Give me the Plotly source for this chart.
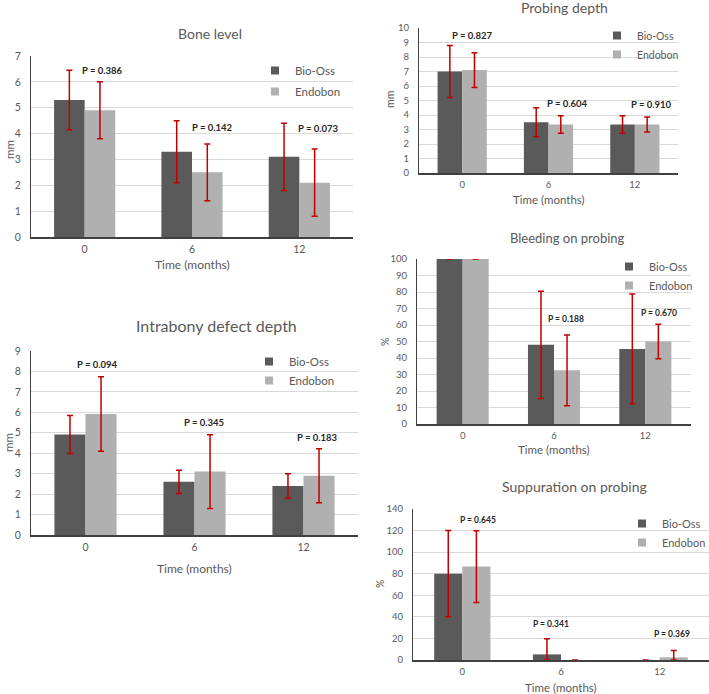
import plotly.graph_objects as go

# ---------------- data ----------------
time_labels = ["0", "6", "12"]
series_names = ["Bio-Oss", "Endobon"]

bone_bio = [5.3, 3.3, 3.1]
bone_bio_sd = [1.15, 1.2, 1.3]
bone_endo = [4.9, 2.5, 2.1]
bone_endo_sd = [1.1, 1.1, 1.3]
bone_p = ["P = 0.386", "P = 0.142", "P = 0.073"]

intra_bio = [4.92, 2.6, 2.4]
intra_bio_sd = [0.93, 0.57, 0.6]
intra_endo = [5.92, 3.1, 2.9]
intra_endo_sd = [1.82, 1.8, 1.32]
intra_p = ["P = 0.094", "P = 0.345", "P = 0.183"]

prob_bio = [7.0, 3.5, 3.35]
prob_bio_sd = [1.8, 1.0, 0.6]
prob_endo = [7.1, 3.35, 3.35]
prob_endo_sd = [1.2, 0.6, 0.52]
prob_p = ["P = 0.827", "P = 0.604", "P = 0.910"]

bleed_bio = [100, 48, 45.5]
bleed_bio_sd = [0, 32.5, 33.3]
bleed_endo = [100, 32.5, 50]
bleed_endo_sd = [0, 21.5, 10.5]
bleed_p = ["", "P = 0.188", "P = 0.670"]

supp_bio = [80, 5.2, 0]
supp_bio_up = [40, 14.5, 0]
supp_bio_down = [40, 5.2, 0]
supp_endo = [86.6, 0, 2.5]
supp_endo_up = [33.3, 0, 6.4]
supp_endo_down = [33.3, 0, 2.5]
supp_p = ["P = 0.645", "P = 0.341", "P = 0.369"]

# ---------------- style / layout ----------------
W, H = 709, 694
DARK = "#5a5a5a"
LIGHT = "#b0b0b0"
RED = "#c00000"
TXT = "#595959"
FONT = "Lato"
x_idx = [0, 1, 2]


def px(x):
    return x / W


def py(y):
    return 1 - y / H


panels = [
    dict(n=1, title="Bone level", ytitle="mm", bio=bone_bio, bup=bone_bio_sd, bdn=bone_bio_sd,
         endo=bone_endo, eup=bone_endo_sd, edn=bone_endo_sd, p=bone_p,
         p_pos=[(0.17, 6.43), (0.19, 4.23), (0.18, 4.19)],
         xd=(31, 353), yd=(56, 237), yr=7, dt=1, tpos=(210, 33), tsize=14, psize=9.5,
         ytpos=(9, 150), xtpos=265, leg=(255, 56), legsize=11.5, tsz=10.5, xts=12, lgap=2),
    dict(n=2, title="Intrabony defect depth", ytitle="mm", bio=intra_bio, bup=intra_bio_sd, bdn=intra_bio_sd,
         endo=intra_endo, eup=intra_endo_sd, edn=intra_endo_sd, p=intra_p,
         p_pos=[(0.11, 8.35), (0.09, 5.5), (0.13, 4.77)],
         xd=(31, 358), yd=(351, 535), yr=9, dt=1, tpos=(216, 325), tsize=16, psize=9.5,
         ytpos=(8, 443), xtpos=568, leg=(249, 347), legsize=11.5, tsz=10.5, xts=12, lgap=0),
    dict(n=3, title="Probing depth", ytitle="mm", bio=prob_bio, bup=prob_bio_sd, bdn=prob_bio_sd,
         endo=prob_endo, eup=prob_endo_sd, edn=prob_endo_sd, p=prob_p,
         p_pos=[(0.12, 9.47), (0.22, 4.76), (0.19, 4.69)],
         xd=(419, 678), yd=(28, 173), yr=10, dt=1, tpos=(564, 8), tsize=14, psize=9.5,
         ytpos=(390, 100), xtpos=200, leg=(597, 21), legsize=10.5, tsz=9.5, xts=11.5, lgap=0),
    dict(n=4, title="Bleeding on probing", ytitle="%", bio=bleed_bio, bup=bleed_bio_sd, bdn=bleed_bio_sd,
         endo=bleed_endo, eup=bleed_endo_sd, edn=bleed_endo_sd, p=bleed_p,
         p_pos=[(0.0, 0.0), (0.13, 63.8), (0.15, 67.5)],
         xd=(417, 691), yd=(259, 424), yr=100, dt=10, tpos=(567, 238), tsize=13, psize=8.5,
         ytpos=(385, 342), xtpos=449, leg=(609, 252), legsize=11, tsz=9.5, xts=11.5, lgap=0),
    dict(n=5, title="Suppuration on probing", ytitle="%", bio=supp_bio, bup=supp_bio_up, bdn=supp_bio_down,
         endo=supp_endo, eup=supp_endo_up, edn=supp_endo_down, p=supp_p,
         p_pos=[(0.155, 129.5), (-0.1, 33.0), (0.13, 24.0)],
         xd=(413, 709), yd=(509, 660), yr=140, dt=20, tpos=(574, 486), tsize=14, psize=8.5,
         ytpos=(380, 584), xtpos=687, leg=(622, 509), legsize=11, tsz=9.5, xts=11.5, lgap=0),
]

fig = go.Figure()
annotations = []
layout = dict(
    width=W, height=H, margin=dict(l=0, r=0, t=0, b=0, pad=0, autoexpand=False),
    paper_bgcolor="white", plot_bgcolor="white",
    barmode="group", bargap=0.43, bargroupgap=0,
    font=dict(family=FONT, color=TXT),
    showlegend=True,
)

for pnl in panels:
    n = pnl["n"]
    xa = "x" if n == 1 else f"x{n}"
    ya = "y" if n == 1 else f"y{n}"
    leg = "legend" if n == 1 else f"legend{n}"
    for name, vals, up, dn, col in [
        (series_names[0], pnl["bio"], pnl["bup"], pnl["bdn"], DARK),
        (series_names[1], pnl["endo"], pnl["eup"], pnl["edn"], LIGHT),
    ]:
        fig.add_trace(go.Bar(
            x=x_idx, y=vals, name=name, marker=dict(color=col, line=dict(width=0)),
            error_y=dict(type="data", array=up, arrayminus=dn, symmetric=False,
                         color=RED, thickness=1.5, width=3),
            xaxis=xa, yaxis=ya, showlegend=False, offsetgroup=name,
        ))
        fig.add_trace(go.Scatter(
            x=[None], y=[None], mode="markers", name=name,
            marker=dict(symbol="square", size=8, color=col),
            xaxis=xa, yaxis=ya, legend=leg, showlegend=True,
            legendgroup=f"{leg}_{name}",
        ))
    xkey = "xaxis" if n == 1 else f"xaxis{n}"
    ykey = "yaxis" if n == 1 else f"yaxis{n}"
    layout[xkey] = dict(
        domain=[px(pnl["xd"][0]), px(pnl["xd"][1])], anchor=ya,
        range=[-0.5, 2.5], tickvals=x_idx, ticktext=time_labels,
        showgrid=False, zeroline=False, showline=True, linecolor="#404040", linewidth=1.5,
        ticks="", ticklabelstandoff=2, automargin=False,
        tickfont=dict(size=pnl["tsz"], color=TXT, family=FONT), fixedrange=True,
    )
    layout[ykey] = dict(
        domain=[py(pnl["yd"][1]), py(pnl["yd"][0])], anchor=xa,
        range=[0, pnl["yr"]], dtick=pnl["dt"], tick0=0,
        showgrid=True, gridcolor="#d9d9d9", gridwidth=1, zeroline=False,
        showline=True, linecolor="#404040", linewidth=1,
        ticks="", ticklabelstandoff=7, automargin=False,
        tickfont=dict(size=pnl["tsz"], color=TXT, family=FONT), fixedrange=True,
    )
    layout[leg] = dict(
        x=px(pnl["leg"][0]), y=py(pnl["leg"][1]), xanchor="left", yanchor="top",
        bgcolor="rgba(0,0,0,0)", font=dict(size=pnl["legsize"], color=TXT, family=FONT),
        itemclick=False, itemdoubleclick=False, tracegroupgap=pnl["lgap"],
    )
    annotations.append(dict(
        text=pnl["title"], x=px(pnl["tpos"][0]), y=py(pnl["tpos"][1]),
        xref="paper", yref="paper", showarrow=False, xanchor="center", yanchor="middle",
        font=dict(size=pnl["tsize"], color=TXT, family=FONT),
    ))
    annotations.append(dict(
        text=pnl["ytitle"], x=px(pnl["ytpos"][0]), y=py(pnl["ytpos"][1]),
        xref="paper", yref="paper", showarrow=False, textangle=-90,
        xanchor="center", yanchor="middle",
        font=dict(size=pnl["tsz"] + 1, color=TXT, family=FONT),
    ))
    annotations.append(dict(
        text="Time (months)", x=(px(pnl["xd"][0]) + px(pnl["xd"][1])) / 2, y=py(pnl["xtpos"]),
        xref="paper", yref="paper", showarrow=False, xanchor="center", yanchor="middle",
        font=dict(size=pnl["xts"], color=TXT, family=FONT),
    ))
    for i, ptxt in enumerate(pnl["p"]):
        if not ptxt:
            continue
        off, yv = pnl["p_pos"][i]
        annotations.append(dict(
            text=f"<b>{ptxt}</b>", x=i + off, y=yv, xref=xa, yref=ya,
            showarrow=False, xanchor="center", yanchor="middle",
            font=dict(size=pnl["psize"], color="#262626", family=FONT),
        ))

layout["annotations"] = annotations
fig.update_layout(**layout)
fig.write_html(
    "out.html",
    config={"displayModeBar": False},
    post_script="document.body.style.margin='0';document.body.style.padding='0';",
)
